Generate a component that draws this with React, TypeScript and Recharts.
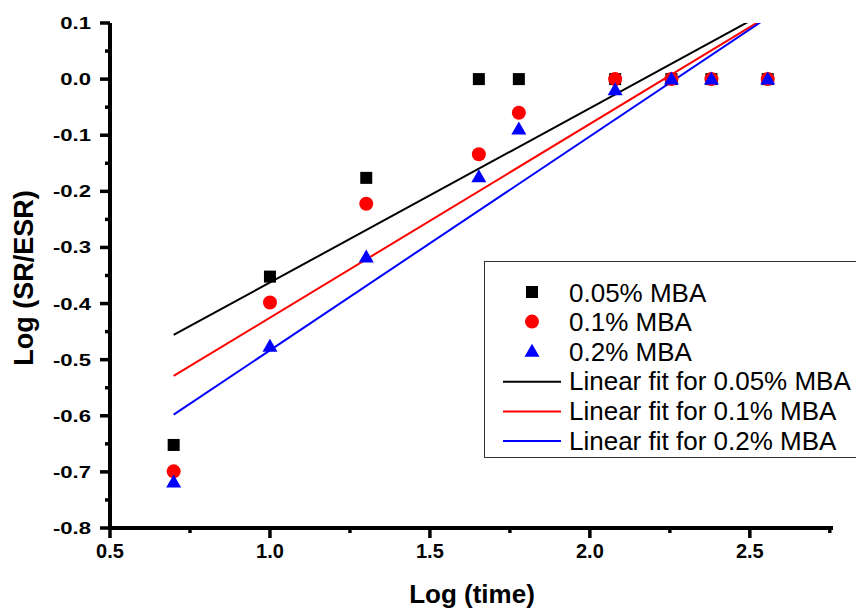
import { Legend, Scatter, ScatterChart, XAxis, YAxis } from 'recharts'

// log(time) for 5, 10, 20, 45, 60, 120, 180, 240, 360
const logTime = [0.699, 1.0, 1.301, 1.653, 1.778, 2.079, 2.255, 2.38, 2.556]
const mba005 = [-0.652, -0.352, -0.176, 0, 0, 0, 0, 0, 0]
const mba01 = [-0.699, -0.398, -0.222, -0.134, -0.06, 0, 0, 0, 0]
const mba02 = [-0.718, -0.476, -0.317, -0.174, -0.089, -0.019, 0, 0, 0]

// linear fit end points
const fitX = [0.699, 2.556]
const fit005 = [-0.456, 0.121]
const fit01 = [-0.529, 0.112]
const fit02 = [-0.598, 0.11]

const xTicks = [0.5, 0.75, 1, 1.25, 1.5, 1.75, 2, 2.25, 2.5, 2.75]
const yTicks = [
  0.1, 0.05, 0, -0.05, -0.1, -0.15, -0.2, -0.25, -0.3, -0.35, -0.4, -0.45, -0.5, -0.55, -0.6,
  -0.65, -0.7, -0.75, -0.8,
]

const FONT = '"Liberation Sans", Arial, sans-serif'

const toPoints = (xs: number[], ys: number[]) => xs.map((x, i) => ({ x, y: ys[i] }))

const series = [
  { name: '0.05% MBA', color: '#000000', kind: 'square', data: mba005 },
  { name: '0.1% MBA', color: '#ff0000', kind: 'circle', data: mba01 },
  { name: '0.2% MBA', color: '#0000ff', kind: 'triangle', data: mba02 },
]
const fits = [
  { name: 'Linear fit for 0.05% MBA', color: '#000000', data: fit005 },
  { name: 'Linear fit for 0.1% MBA', color: '#ff0000', data: fit01 },
  { name: 'Linear fit for 0.2% MBA', color: '#0000ff', data: fit02 },
]

function Marker({ kind, cx, cy, color }: { kind: string; cx: number; cy: number; color: string }) {
  if (kind === 'square') return <rect x={cx - 6} y={cy - 6} width={12} height={12} fill={color} />
  if (kind === 'circle') return <circle cx={cx} cy={cy} r={7} fill={color} />
  return (
    <polygon
      points={`${cx},${cy - 7.5} ${cx - 7.5},${cy + 5.5} ${cx + 7.5},${cy + 5.5}`}
      fill={color}
    />
  )
}

function XTick({ x, y, payload }: any) {
  const v = payload.value
  const major = Math.abs(v * 2 - Math.round(v * 2)) < 1e-6
  return (
    <g>
      <line x1={x} y1={y} x2={x} y2={y + (major ? 10 : 5)} stroke="#000" strokeWidth={3.5} />
      {major && (
        <text x={x} y={y + 30} textAnchor="middle" fontFamily={FONT} fontWeight="bold" fontSize={20} fill="#000">
          {v.toFixed(1)}
        </text>
      )}
    </g>
  )
}

function YTick({ x, y, payload }: any) {
  const v = payload.value
  const major = Math.abs(v * 10 - Math.round(v * 10)) < 1e-6
  return (
    <g>
      <line x1={x - (major ? 10 : 5)} y1={y} x2={x} y2={y} stroke="#000" strokeWidth={3.5} />
      {major && (
        <text
          transform={`translate(${x - 19},${y + 6}) scale(1.3,1)`}
          textAnchor="end"
          fontFamily={FONT}
          fontWeight="bold"
          fontSize={17}
          fill="#000"
        >
          {v.toFixed(1)}
        </text>
      )}
    </g>
  )
}

function LegendBox() {
  const rows = [...series.map((s) => ({ ...s, line: false })), ...fits.map((f) => ({ ...f, kind: 'line', line: true }))]
  return (
    <svg width={372} height={198} style={{ display: 'block' }}>
      <rect x={0.5} y={0.5} width={380} height={196} fill="#fff" stroke="#333" strokeWidth={1} />
      {rows.map((r, i) => {
        const cy = 31 + i * 29.6
        return (
          <g key={r.name}>
            {r.line ? (
              <line x1={19} x2={77} y1={cy + 1} y2={cy + 1} stroke={r.color} strokeWidth={2} />
            ) : (
              <Marker kind={r.kind} cx={48} cy={cy} color={r.color} />
            )}
            <text x={85} y={cy + 9.5} fontFamily={FONT} fontSize={26} fill="#000">
              {r.name}
            </text>
          </g>
        )
      })}
    </svg>
  )
}

export default function App() {
  return (
    <div style={{ position: 'absolute', left: 0, top: 0, width: 856, height: 610, background: '#fff' }}>
      <ScatterChart width={856} height={610} margin={{ top: 23, right: 23, left: 0, bottom: 0 }}>
        <XAxis
          type="number"
          dataKey="x"
          domain={[0.5, 2.76]}
          ticks={xTicks}
          interval={0}
          allowDataOverflow
          height={82}
          tickSize={0}
          tickMargin={0}
          tickLine={false}
          tick={<XTick />}
          axisLine={{ stroke: '#000', strokeWidth: 4 }}
          label={{
            content: () => (
              <text x={472} y={603} textAnchor="middle" fontFamily={FONT} fontWeight="bold" fontSize={26} fill="#000">
                Log (time)
              </text>
            ),
          }}
        />
        <YAxis
          type="number"
          dataKey="y"
          domain={[-0.8, 0.1]}
          ticks={yTicks}
          interval={0}
          allowDataOverflow
          width={110}
          tickSize={0}
          tickMargin={0}
          tickLine={false}
          tick={<YTick />}
          axisLine={{ stroke: '#000', strokeWidth: 4 }}
          label={{
            content: () => (
              <text
                transform="translate(33,278) rotate(-90)"
                textAnchor="middle"
                fontFamily={FONT}
                fontWeight="bold"
                fontSize={27}
                fill="#000"
              >
                Log (SR/ESR)
              </text>
            ),
          }}
        />
        {fits.map((f) => (
          <Scatter
            key={f.name}
            name={f.name}
            data={toPoints(fitX, f.data)}
            line={{ stroke: f.color, strokeWidth: 2 }}
            shape={() => <g />}
            legendType="none"
            isAnimationActive={false}
          />
        ))}
        {series.map((s) => (
          <Scatter
            key={s.name}
            name={s.name}
            data={toPoints(logTime, s.data)}
            shape={(p: any) => <Marker kind={s.kind} cx={p.cx} cy={p.cy} color={s.color} />}
            isAnimationActive={false}
          />
        ))}
        <Legend
          content={() => <LegendBox />}
          layout="horizontal"
          verticalAlign="middle"
          wrapperStyle={{ position: 'absolute', left: 484, top: 261, width: 372, height: 198 }}
        />
      </ScatterChart>
    </div>
  )
}
